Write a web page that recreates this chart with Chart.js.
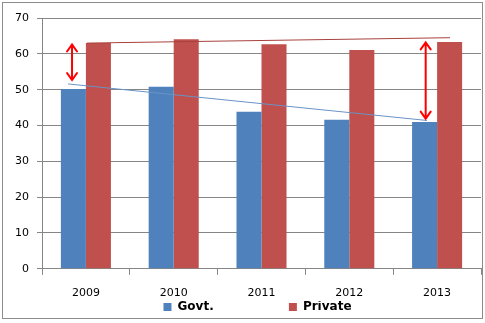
<!DOCTYPE html>
<html>
<head>
<meta charset="utf-8">
<script src="https://cdn.jsdelivr.net/npm/chart.js@4"></script>
<style>
  html, body { margin: 0; padding: 0; background: #fff; }
  #frame { position: absolute; left: 2px; top: 2px; width: 479px; height: 315px; border: 1px solid #8c8c8c; }
  #wrap { position: absolute; left: 0; top: 0; width: 485px; height: 323px; }
</style>
</head>
<body>
<div id="frame"></div>
<div id="wrap"><canvas id="chart" width="485" height="323"></canvas></div>
<script>
// ------------------------
// Data
// ------------------------
const years = ['2009', '2010', '2011', '2012', '2013'];
const govt = [50.2, 50.8, 43.8, 41.6, 41.0];
const priv = [63.0, 64.1, 62.7, 61.1, 63.3];
const yTicks = [0, 10, 20, 30, 40, 50, 60, 70];

// hand drawn trend lines (x in category units, y in values)
const govtTrendX = [-0.204, 3.885];
const govtTrendY = [51.6, 41.4];
const privTrendX = [0.012, 4.147];
const privTrendY = [63.0, 64.5];

// red double arrows
const arrowX = [-0.158, 3.87];
const arrowTop = [62.6, 63.2];
const arrowBottom = [52.7, 41.9];

const toPoints = (xs, ys) => xs.map((x, i) => ({ x: x, y: ys[i] }));

// ------------------------
// Plugins
// ------------------------
const arrowPlugin = {
    id: 'arrows',
    afterDatasetsDraw(chart) {
        const ctx = chart.ctx;
        const xs = chart.scales.x;
        const ys = chart.scales.y;
        ctx.save();
        ctx.strokeStyle = '#ff0000';
        ctx.lineWidth = 2;
        ctx.lineCap = 'round';
        arrowX.forEach((ax, i) => {
            const x = xs.getPixelForValue(ax);
            const y1 = ys.getPixelForValue(arrowTop[i]);
            const y2 = ys.getPixelForValue(arrowBottom[i]);
            ctx.beginPath();
            ctx.moveTo(x, y1);
            ctx.lineTo(x, y2);
            ctx.moveTo(x - 5, y1 + 7);
            ctx.lineTo(x, y1);
            ctx.lineTo(x + 5, y1 + 7);
            ctx.moveTo(x - 5, y2 - 7);
            ctx.lineTo(x, y2);
            ctx.lineTo(x + 5, y2 - 7);
            ctx.stroke();
        });
        ctx.restore();
    }
};

// nudge the legend row a bit to the right, like the original
const legendShift = {
    id: 'legendShift',
    afterLayout(chart) {
        chart.legend.left += 17;
        chart.legend.right += 17;
    }
};

const gridColor = '#868686';
const font = { family: 'DejaVu Sans', size: 11 };

new Chart(document.getElementById('chart'), {
    type: 'bar',
    data: {
        labels: years,
        datasets: [
            { label: 'Govt.', data: govt, backgroundColor: '#4f81bd', order: 2 },
            { label: 'Private', data: priv, backgroundColor: '#c0504d', order: 2 },
            {
                type: 'line', label: 'govtTrend', parsing: false, data: toPoints(govtTrendX, govtTrendY),
                borderColor: '#6a93c6', borderWidth: 1, pointRadius: 0, order: 1
            },
            {
                type: 'line', label: 'privTrend', parsing: false, data: toPoints(privTrendX, privTrendY),
                borderColor: '#a8413e', borderWidth: 1, pointRadius: 0, order: 1
            }
        ]
    },
    options: {
        responsive: false,
        animation: false,
        layout: { padding: { top: 18, right: 4, left: 0, bottom: 0 } },
        datasets: { bar: { barPercentage: 1, categoryPercentage: 0.57 } },
        plugins: {
            tooltip: { enabled: false },
            legend: {
                position: 'bottom',
                labels: {
                    color: '#000',
                    font: { family: 'DejaVu Sans', size: 12, weight: 'bold' },
                    boxWidth: 8,
                    boxHeight: 8,
                    padding: 0,
                    filter: item => item.datasetIndex < 2,
                    generateLabels(chart) {
                        const items = Chart.defaults.plugins.legend.labels.generateLabels(chart);
                        items.forEach(it => {
                            it.lineWidth = 0;
                            if (it.datasetIndex === 0) it.text = it.text + '                  ';
                        });
                        return items;
                    }
                }
            }
        },
        scales: {
            x: {
                grid: { display: true, drawOnChartArea: false, color: gridColor, tickLength: 6, offset: true },
                border: { color: gridColor },
                ticks: { color: '#000', font: font, padding: 12 },
                afterFit(scale) { scale.height -= 11; }
            },
            y: {
                min: 0, max: 70,
                afterBuildTicks(scale) { scale.ticks = yTicks.map(v => ({ value: v })); },
                grid: { color: gridColor, tickLength: 5 },
                border: { color: gridColor },
                ticks: { color: '#000', font: font, padding: 8 },
                afterFit(scale) { scale.width = 42; }
            }
        }
    },
    plugins: [arrowPlugin, legendShift]
});
</script>
</body>
</html>
